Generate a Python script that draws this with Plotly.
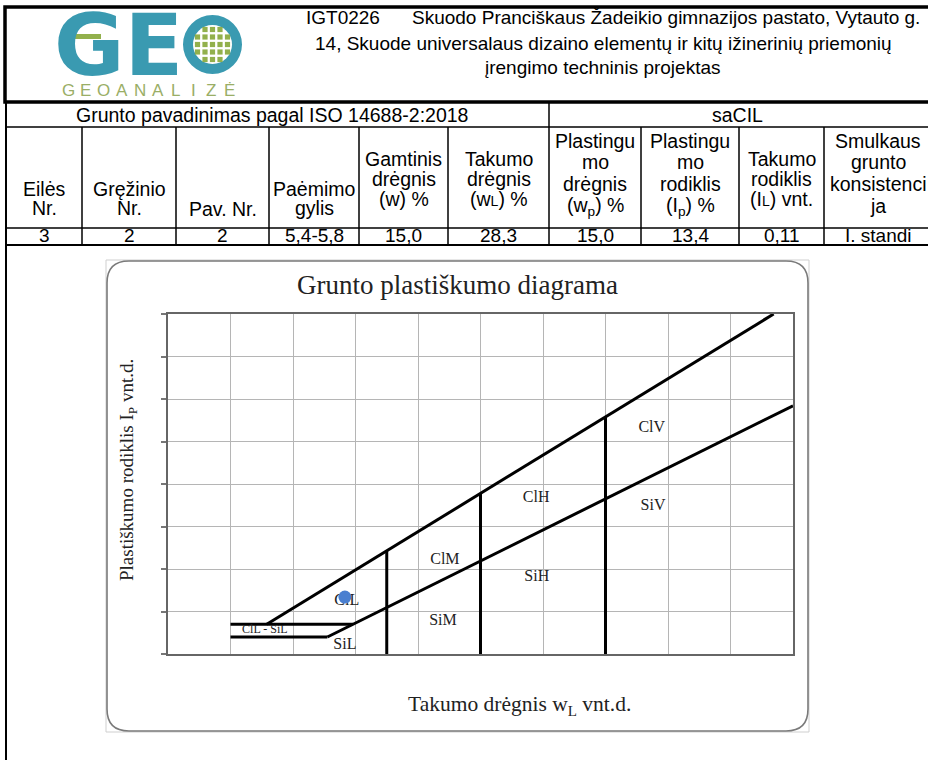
import plotly.graph_objects as go

W, H = 928, 760

# ---------------- data ----------------
project_code = "IGT0226"
title_lines = [
    "Skuodo Pranciškaus Žadeikio gimnazijos pastato, Vytauto g.",
    "14, Skuode universalaus dizaino elementų ir kitų ižinerinių priemonių",
    "įrengimo techninis projektas",
]
logo_word = "GE"
logo_sub = ["G", "E", "O", "A", "N", "A", "L", "I", "Z", "Ė"]

group_labels = ["Grunto pavadinimas pagal ISO 14688-2:2018", "saCIL"]
column_headers = [
    ["Eilės", "Nr."],
    ["Gręžinio", "Nr."],
    ["Pav. Nr."],
    ["Paėmimo", "gylis"],
    ["Gamtinis", "drėgnis", "(w) %"],
    ["Takumo", "drėgnis", "(w<span style='font-size:14px'>L</span>) %"],
    ["Plastingu", "mo", "drėgnis", "(w<sub>p</sub>) %"],
    ["Plastingu", "mo", "rodiklis", "(I<sub>p</sub>) %"],
    ["Takumo", "rodiklis", "(I<span style='font-size:14px'>L</span>) vnt."],
    ["Smulkaus", "grunto", "konsistenci", "ja"],
]
row_values = ["3", "2", "2", "5,4-5,8", "15,0", "28,3", "15,0", "13,4", "0,11", "I. standi"]

chart_title = "Grunto plastiškumo diagrama"
x_title = "Takumo drėgnis w<sub>L</sub> vnt.d."
y_title = "Plastiškumo rodiklis I<sub>P</sub> vnt.d."

# sample point (liquid limit %, plasticity index %)
sample_wl = [28.3]
sample_ip = [13.4]

# boundary lines
u_line_wl = [15.8, 96.9]
u_line_ip = [7.0, 80.0]
a_line_wl = [25.5, 100.0]
a_line_ip = [4.0, 58.4]
ip7_wl = [10.0, 29.6]
ip7_ip = [7.0, 7.0]
ip4_wl = [10.0, 25.5]
ip4_ip = [4.0, 4.0]
div_wl = [35.0, 50.0, 70.0]
div_ip_top = [24.3, 37.8, 55.8]

zone_labels = ["ClV", "SiV", "ClH", "SiH", "ClM", "SiM", "ClL", "SiL"]
zone_wl = [77.4, 77.6, 58.9, 59.0, 44.3, 44.0, 28.6, 28.3]
zone_ip = [53.2, 34.8, 36.7, 18.1, 22.1, 7.8, 12.5, 2.1]
small_label = ["ClL - SiL"]
small_wl = [15.5]
small_ip = [5.6]

# ---------------- helpers ----------------
def fx(x):
    return x / W

def fy(y):
    return 1 - y / H

shapes = []
annotations = []

def line(x0, y0, x1, y1, color="black", width=1.5):
    shapes.append(dict(type="line", xref="paper", yref="paper",
                       x0=fx(x0), y0=fy(y0), x1=fx(x1), y1=fy(y1),
                       line=dict(color=color, width=width)))

def rect(x0, y0, x1, y1, fill=None, color=None, width=0, layer="above"):
    d = dict(type="rect", xref="paper", yref="paper",
             x0=fx(x0), y0=fy(y0), x1=fx(x1), y1=fy(y1), layer=layer,
             line=dict(width=width, color=color or "rgba(0,0,0,0)"))
    if fill:
        d["fillcolor"] = fill
    shapes.append(d)

def circle(x0, y0, x1, y1, fill):
    shapes.append(dict(type="circle", xref="paper", yref="paper",
                       x0=fx(x0), y0=fy(y0), x1=fx(x1), y1=fy(y1),
                       fillcolor=fill, line=dict(width=0)))

def text(x, y, s, size=19.5, family="Liberation Sans", color="black",
         xanchor="center", yanchor="middle", angle=0, weight=None):
    f = dict(size=size, family=family, color=color)
    if weight:
        f["weight"] = weight
    annotations.append(dict(x=fx(x), y=fy(y), xref="paper", yref="paper",
                            text=s, showarrow=False, font=f, borderpad=0,
                            xanchor=xanchor, yanchor=yanchor, textangle=angle))

# ---------------- header box ----------------
rect(5, 7, 945, 102, color="black", width=3.5)
# logo
teal = "#3a9ab1"
green = "#92b04c"
text(53, 45, logo_word, size=86, family="DejaVu Sans", color=teal,
     xanchor="left", weight="bold")
circle(183, 15, 242, 74, teal)
circle(193, 25, 232, 64, "white")
for i, dy in enumerate([-15, -7.5, 0, 7.5, 15]):
    for j, dx in enumerate([-15, -7.5, 0, 7.5, 15]):
        if abs(dx) == 15 and abs(dy) == 15:
            continue
        rect(212.5 + dx - 2.6, 44.5 + dy - 2.6, 212.5 + dx + 2.6, 44.5 + dy + 2.6, fill=green)
rect(70, 34, 101, 39, fill=green)
for k, ch in enumerate(logo_sub):
    text(68 + k * 17.9, 91, ch, size=17, color="#9aae66")

text(305, 18, project_code, size=19, xanchor="left")
text(411, 18, title_lines[0], size=19, xanchor="left")
text(603, 44, title_lines[1], size=19)
text(603, 67, title_lines[2], size=19)

# ---------------- table ----------------
dividers = [6, 82, 176, 269, 359, 448, 549, 641, 739, 824, 940]
line(6, 102, 6, 760, width=2)
line(6, 127, 940, 127)
line(6, 228, 940, 228)
line(6, 245, 940, 245, width=2)
line(549, 102, 549, 245)
for xd in dividers[1:-1]:
    if xd != 549:
        line(xd, 127, xd, 245)

text(272, 115, group_labels[0])
text(737, 115, group_labels[1])
for c, lines_ in enumerate(column_headers):
    xc = (dividers[c] + dividers[c + 1]) / 2
    if c == 9:
        xc = 878
    n = len(lines_)
    if n == 1:
        ys = [209]
    elif n == 2:
        ys = [189, 208]
    elif n == 3:
        ys = [159, 179, 199]
    else:
        ys = [141, 162, 184, 206]
    for s, yy in zip(lines_, ys):
        text(xc, yy, s)
    text(xc, 235, row_values[c], size=19)

# ---------------- chart frame ----------------
rect(106, 260, 809, 732, color="#cfcfcf", width=1, layer="below")
x0, y0, x1, y1, r = 107, 261, 808, 731, 22
p = lambda x, y: f"{fx(x)},{fy(y)}"
path = (f"M {p(x0 + r, y0)} L {p(x1 - r, y0)} Q {p(x1, y0)} {p(x1, y0 + r)} "
        f"L {p(x1, y1 - r)} Q {p(x1, y1)} {p(x1 - r, y1)} "
        f"L {p(x0 + r, y1)} Q {p(x0, y1)} {p(x0, y1 - r)} "
        f"L {p(x0, y0 + r)} Q {p(x0, y0)} {p(x0 + r, y0)} Z")
shapes.append(dict(type="path", xref="paper", yref="paper", path=path,
                   line=dict(color="#7a7a7a", width=1.6), layer="below"))

text(457, 285, chart_title, size=27, family="Liberation Serif", color="#222")
text(128, 470, y_title, size=19, family="Liberation Serif", color="#222", angle=-90)
text(519, 705, x_title, size=21.5, family="Liberation Serif", color="#222")

# ---------------- traces ----------------
fig = go.Figure()
blk = dict(color="black", width=3)
for xs, ys in [(u_line_wl, u_line_ip), (a_line_wl, a_line_ip),
               (ip7_wl, ip7_ip), (ip4_wl, ip4_ip)]:
    fig.add_trace(go.Scatter(x=xs, y=ys, mode="lines", line=blk,
                             hoverinfo="skip", showlegend=False))
for wl, top in zip(div_wl, div_ip_top):
    fig.add_trace(go.Scatter(x=[wl, wl], y=[0, top], mode="lines", line=blk,
                             hoverinfo="skip", showlegend=False))
fig.add_trace(go.Scatter(x=zone_wl, y=zone_ip, mode="text", text=zone_labels,
                         textfont=dict(family="Liberation Serif", size=16, color="#222"),
                         showlegend=False, hoverinfo="skip"))
fig.add_trace(go.Scatter(x=small_wl, y=small_ip, mode="text", text=small_label,
                         textfont=dict(family="Liberation Serif", size=12, color="#222"),
                         showlegend=False, hoverinfo="skip"))
fig.add_trace(go.Scatter(x=sample_wl, y=sample_ip, mode="markers",
                         marker=dict(size=13, color="#4a7fd0"),
                         showlegend=False))

fig.update_layout(
    width=W, height=H,
    margin=dict(l=0, r=0, t=0, b=0),
    paper_bgcolor="white",
    plot_bgcolor="rgba(0,0,0,0)",
    shapes=shapes,
    annotations=annotations,
    xaxis=dict(domain=[168 / W, 793 / W], range=[0, 100], dtick=10,
               showgrid=True, gridcolor="#b5b5b5", gridwidth=1,
               showline=True, linecolor="#666", linewidth=2, mirror=True,
               showticklabels=False, ticks="", zeroline=False, fixedrange=True),
    yaxis=dict(domain=[1 - 654 / H, 1 - 314 / H], range=[0, 80], dtick=10,
               showgrid=True, gridcolor="#b5b5b5", gridwidth=1,
               showline=True, linecolor="#666", linewidth=2, mirror=True,
               showticklabels=False, ticks="outside", ticklen=5,
               tickcolor="#777", tickwidth=1.5, zeroline=False, fixedrange=True),
)

fig.write_html("out.html", config={"displayModeBar": False},
               post_script="document.body.style.margin='0';document.body.style.overflow='hidden';")
